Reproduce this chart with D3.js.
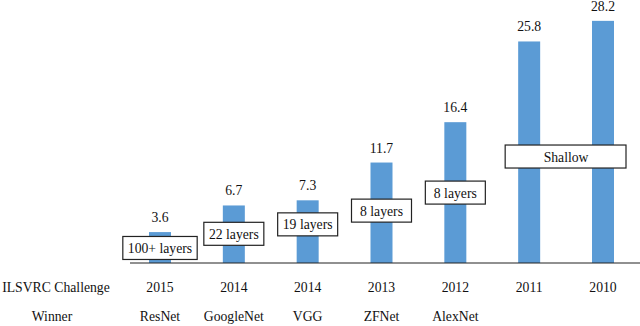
<!DOCTYPE html>
<html>
<head>
    <title>ILSVRC winners</title>
    <script type="text/javascript" src="https://d3js.org/d3.v7.min.js"></script>
    <style>
        body { margin: 0; background: #fff; }
    </style>
</head>
<body>
    <script>
        // data
        var winners = ["ResNet", "GoogleNet", "VGG", "ZFNet", "AlexNet", "2011", "2010"];
        var winnerLabels = ["ResNet", "GoogleNet", "VGG", "ZFNet", "AlexNet", "", ""];
        var years = ["2015", "2014", "2014", "2013", "2012", "2011", "2010"];
        var errors = [3.6, 6.7, 7.3, 11.7, 16.4, 25.8, 28.2];

        // layer annotations: text, first bar, last bar, level (in error units)
        var layerText = ["100+ layers", "22 layers", "19 layers", "8 layers", "8 layers", "Shallow"];
        var layerFrom = ["ResNet", "GoogleNet", "VGG", "ZFNet", "AlexNet", "2011"];
        var layerTo = ["ResNet", "GoogleNet", "VGG", "ZFNet", "AlexNet", "2010"];
        var layerLevel = [1.75, 3.4, 4.5, 6.1, 8.2, 12.4];

        var width = 640, height = 326;
        var baseY = 263;
        var fs = 13.7;

        var svg = d3.select("body").append("svg")
                    .attr("width", width)
                    .attr("height", height);

        var xScale = d3.scalePoint().domain(winners).range([160, 603]);
        var yScale = d3.scaleLinear().domain([0, 30]).range([baseY, 5.4]);
        var barW = 22;

        function addText(parent, x, y, str) {
            return parent.append("text")
                .attr("x", x)
                .attr("y", y)
                .attr("text-anchor", "middle")
                .style("font-family", "'Liberation Serif'")
                .style("font-size", fs + "px")
                .style("fill", "#111")
                .text(str);
        }

        // bars
        svg.selectAll(".bar")
            .data(errors)
            .enter()
            .append("rect")
            .attr("class", "bar")
            .attr("x", function(d, i){ return xScale(winners[i]) - barW / 2; })
            .attr("y", function(d){ return yScale(d); })
            .attr("width", barW)
            .attr("height", function(d){ return baseY - yScale(d); })
            .style("fill", "#5b9bd5");

        // value labels
        errors.forEach(function(d, i){
            addText(svg, xScale(winners[i]), yScale(d) - 10, d.toFixed(1));
        });

        // baseline
        svg.append("line")
            .attr("x1", 130).attr("x2", width)
            .attr("y1", baseY).attr("y2", baseY)
            .style("stroke", "#222")
            .style("stroke-width", 1.2);

        // layer boxes
        layerText.forEach(function(d, i){
            var g = svg.append("g").attr("class", "box");
            var cy = yScale(layerLevel[i]);
            var x0 = xScale(layerFrom[i]), x1 = xScale(layerTo[i]);
            var t = addText(g, (x0 + x1) / 2, cy + 5, d);
            var tw = t.node().getComputedTextLength();
            var bw = Math.max(tw + 10, 60);
            var left, right;
            if (x0 === x1) {
                left = x0 - bw / 2; right = x0 + bw / 2;
            } else {
                left = x0 - 24; right = x1 + 23;
            }
            g.insert("rect", "text")
                .attr("x", left)
                .attr("y", cy - 11.5)
                .attr("width", right - left)
                .attr("height", 23)
                .style("fill", "#fff")
                .style("stroke", "#222")
                .style("stroke-width", 1.2);
        });

        // row labels
        addText(svg, 56, 291.5, "ILSVRC Challenge");
        addText(svg, 52, 320.5, "Winner");

        years.forEach(function(d, i){
            addText(svg, xScale(winners[i]), 291.5, d);
        });
        winnerLabels.forEach(function(d, i){
            if (d) addText(svg, xScale(winners[i]), 320.5, d);
        });
    </script>
</body>
</html>
